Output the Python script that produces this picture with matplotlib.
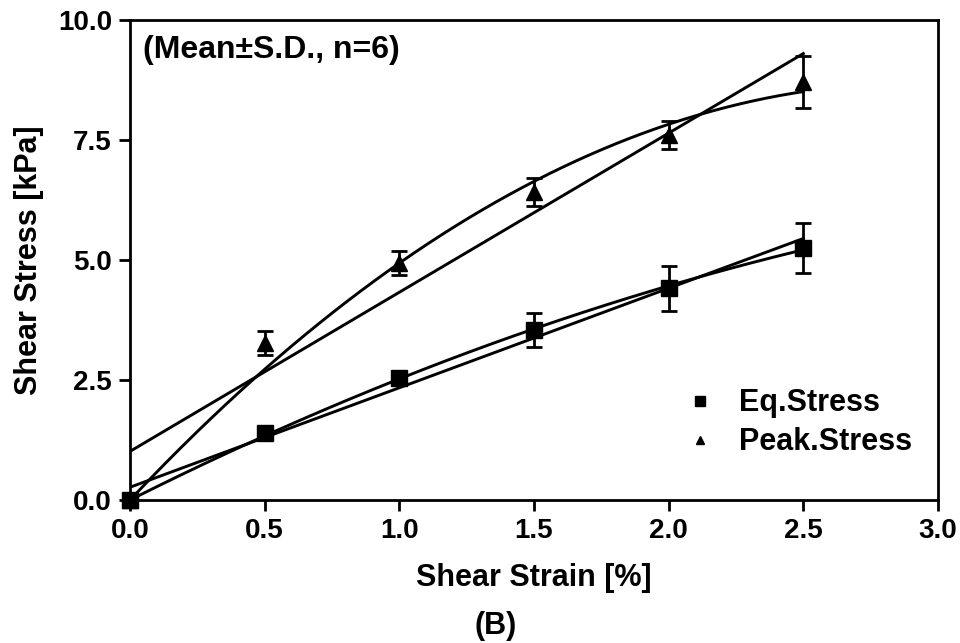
import matplotlib
matplotlib.use('Agg')
import matplotlib.pyplot as plt
from matplotlib.lines import Line2D
import numpy as np

plt.rcParams['font.family'] = ['Liberation Sans', 'DejaVu Sans']
plt.rcParams['font.weight'] = 'bold'

# data
strain = [0.0, 0.5, 1.0, 1.5, 2.0, 2.5]
eq_stress = [0.0, 1.40, 2.54, 3.54, 4.41, 5.25]
eq_sd = [0.0, 0.05, 0.08, 0.36, 0.47, 0.52]
peak_stress = [0.0, 3.27, 4.94, 6.42, 7.60, 8.71]
peak_sd = [0.0, 0.25, 0.25, 0.29, 0.29, 0.55]

x = np.array(strain)

fig = plt.figure(figsize=(9.6, 6.43), dpi=100)
ax = fig.add_axes([0.1354, 0.2224, 0.8417, 0.7465])

# fits: straight line and quadratic through the origin
xx = np.linspace(0, 2.5, 200)
for ys in (eq_stress, peak_stress):
    y = np.array(ys)
    p = np.polyfit(x, y, 1)
    ax.plot([0, 2.5], np.polyval(p, [0, 2.5]), color='black', lw=2.1, zorder=2)
    A = np.column_stack([x, x ** 2])
    c = np.linalg.lstsq(A, y, rcond=None)[0]
    ax.plot(xx, c[0] * xx + c[1] * xx ** 2, color='black', lw=2.1, zorder=2)

ax.errorbar(strain, eq_stress, yerr=eq_sd, fmt='s', color='black', ms=11,
            capsize=5.5, elinewidth=2.0, capthick=2.0, zorder=3, clip_on=False)
ax.errorbar(strain, peak_stress, yerr=peak_sd, fmt='^', color='black', ms=11,
            capsize=5.5, elinewidth=2.0, capthick=2.0, zorder=3, clip_on=False)

ax.set_xlim(0, 3.0)
ax.set_ylim(0, 10.0)
ax.set_xticks([0, 0.5, 1.0, 1.5, 2.0, 2.5, 3.0])
ax.set_yticks([0, 2.5, 5.0, 7.5, 10.0])
ax.set_xticklabels(['0.0', '0.5', '1.0', '1.5', '2.0', '2.5', '3.0'])
ax.set_yticklabels(['0.0', '2.5', '5.0', '7.5', '10.0'])
ax.tick_params(direction='out', length=8, width=2.0, labelsize=20, pad=5)
for s in ax.spines.values():
    s.set_linewidth(2.0)

ax.set_xlabel('Shear Strain [%]', fontsize=22, fontweight='bold', labelpad=14)
ax.set_ylabel('Shear Stress [kPa]', fontsize=22, fontweight='bold', labelpad=10)

ax.text(0.016, 0.9375, '(Mean\u00b1S.D., n=6)', transform=ax.transAxes,
        fontsize=23, fontweight='bold', va='center', ha='left')

handles = [Line2D([], [], ls='none', marker='s', ms=7, color='black'),
           Line2D([], [], ls='none', marker='^', ms=6, color='black')]
ax.legend(handles, ['Eq.Stress', 'Peak.Stress'], loc='upper left',
          bbox_to_anchor=(0.652, 0.29), frameon=False, fontsize=22,
          handlelength=1.0, handletextpad=0.8, labelspacing=0.3)

fig.text(0.516, 0.026, '(B)', fontsize=22, fontweight='bold', ha='center', va='center')

fig.savefig('out.png', dpi=100)
